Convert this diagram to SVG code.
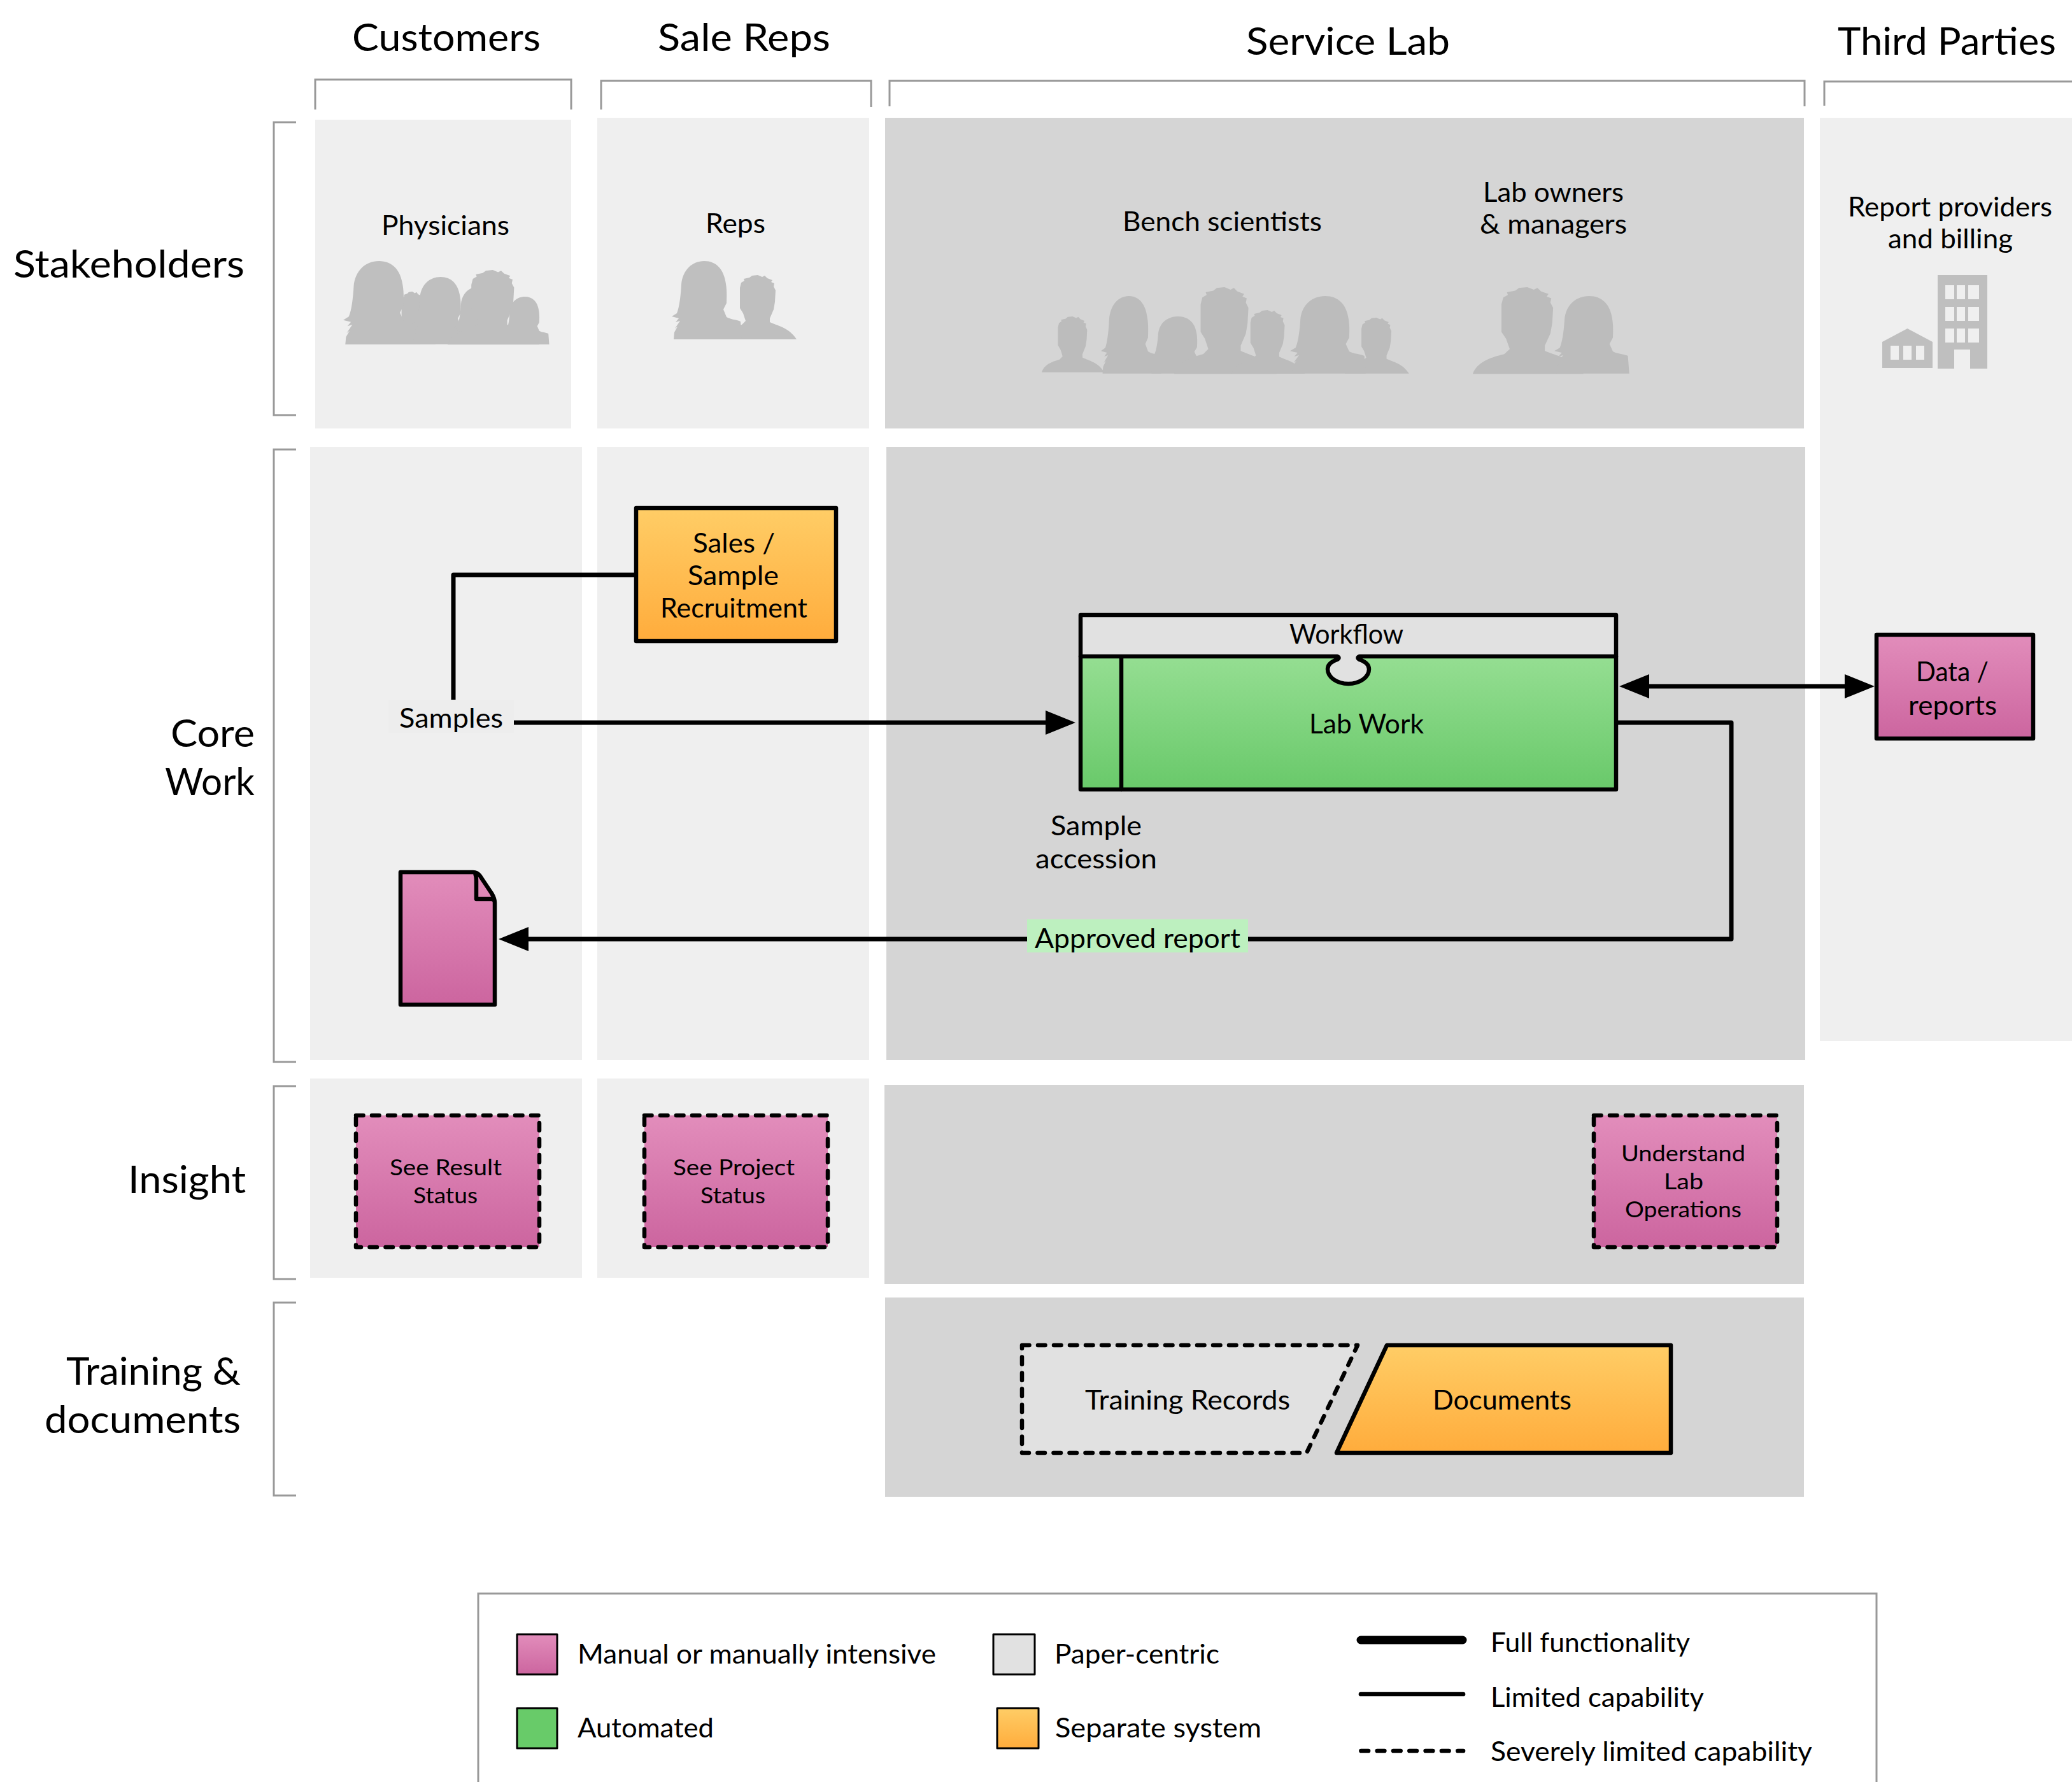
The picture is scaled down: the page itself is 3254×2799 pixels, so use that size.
<svg xmlns="http://www.w3.org/2000/svg" width="3254" height="2799" viewBox="0 0 3254 2799">
<style>
text{font-family:"Lato","Liberation Sans",sans-serif;fill:#000;font-size:42.500px}
.t{font-size:60px}.s{font-size:35.500px}
.l{fill:#efefef}.d{fill:#d5d5d5}
.br{fill:none;stroke:#999;stroke-width:3}
.n{stroke:#000;stroke-width:6.500;stroke-linejoin:round}
.dash{stroke-dasharray:11.500 13.500;stroke-linecap:round}
.c{fill:none;stroke:#000;stroke-width:7;stroke-linejoin:round}
.sil{fill:#bfbfbf}.sil2{fill:#bcbcbc}
.p{fill:url(#pink)}.g{fill:url(#green)}.o{fill:url(#orange)}.w{fill:#e1e1e1}
</style>
<defs>
<linearGradient id="pink" x1="0" y1="0" x2="0" y2="1"><stop offset="0" stop-color="#e28dbb"/><stop offset="1" stop-color="#cc659f"/></linearGradient>
<linearGradient id="green" x1="0" y1="0" x2="0" y2="1"><stop offset="0" stop-color="#95de92"/><stop offset="1" stop-color="#69c96a"/></linearGradient>
<linearGradient id="orange" x1="0" y1="0" x2="0" y2="1"><stop offset="0" stop-color="#ffcd66"/><stop offset="1" stop-color="#ffac3c"/></linearGradient>
<marker id="arr" markerUnits="userSpaceOnUse" markerWidth="48" markerHeight="38" refX="1" refY="19" orient="auto-start-reverse"><path d="M0 0L47 19L0 38Z" fill="#000"/></marker>
<path id="woman" d="M3 123L4 112L9 103L5 106L13 94L6 96L11 90L0 87L8 82C12 72 14 55 15 37C17 14 32 0 51 0C70 0 82 13 85 36C87 48 86 60 86 66L81 76L86 88C92 92 103 92 108 95L110 123Z"/>
<path id="man" d="M0 101C4 88 18 82 34 78L40 72L36 60L31 52L31 20L33 12L38 9L37 6L46 4L50 1L59 0L66 3L70 1L74 5L82 8L80 11L85 13L84 18L87 24L86 42L84 54L78 68L78 74C90 80 108 82 120 101Z"/>
</defs>
<rect width="3254" height="2799" fill="#fff"/>
<g id="panels">
<rect class="l" x="495" y="188" width="402" height="485"/>
<rect class="l" x="938" y="185" width="427" height="488"/>
<rect class="d" x="1390" y="185" width="1443" height="488"/>
<rect class="l" x="2858" y="185" width="396" height="1450"/>
<rect class="l" x="487" y="702" width="427" height="963"/>
<rect class="l" x="938" y="702" width="427" height="963"/>
<rect class="d" x="1392" y="702" width="1443" height="963"/>
<rect class="l" x="487" y="1694" width="427" height="313"/>
<rect class="l" x="938" y="1694" width="427" height="313"/>
<rect class="d" x="1389" y="1704" width="1444" height="313"/>
<rect class="d" x="1390" y="2038" width="1443" height="313"/>
</g>
<g id="brackets">
<path class="br" d="M495 172V125H897V172"/>
<path class="br" d="M944 172V127H1368V168"/>
<path class="br" d="M1397 167V127H2834V167"/>
<path class="br" d="M3254 128H2865V166"/>
<path class="br" d="M465 192H430V652H465"/>
<path class="br" d="M465 706H430V1668H465"/>
<path class="br" d="M465 1706H430V2009H465"/>
<path class="br" d="M465 2046H430V2349H465"/>
</g>
<g id="headers">
<text class="t" x="553" y="80" textLength="296" lengthAdjust="spacingAndGlyphs">Customers</text>
<text class="t" x="1033" y="80" textLength="271" lengthAdjust="spacingAndGlyphs">Sale Reps</text>
<text class="t" x="1957" y="86" textLength="320" lengthAdjust="spacingAndGlyphs">Service Lab</text>
<text class="t" x="2886" y="86" textLength="343" lengthAdjust="spacingAndGlyphs">Third Parties</text>
<text class="t" x="21" y="436" textLength="363" lengthAdjust="spacingAndGlyphs">Stakeholders</text>
<text class="t" x="268" y="1173" textLength="132" lengthAdjust="spacingAndGlyphs">Core</text>
<text class="t" x="259" y="1249" textLength="141" lengthAdjust="spacingAndGlyphs">Work</text>
<text class="t" x="201" y="1874" textLength="185" lengthAdjust="spacingAndGlyphs">Insight</text>
<text class="t" x="104" y="2175" textLength="274" lengthAdjust="spacingAndGlyphs">Training &amp;</text>
<text class="t" x="70" y="2251" textLength="308" lengthAdjust="spacingAndGlyphs">documents</text>
</g>
<g id="stakeholder-physicians">
<text x="599" y="369" textLength="201" lengthAdjust="spacingAndGlyphs">Physicians</text>
<g class="sil">
<use href="#man" transform="translate(612 458) scale(.6 .82)"/>
<use href="#woman" transform="translate(539 410) scale(1.1 1.065)"/>
<use href="#woman" transform="translate(646 435) scale(.9 .86)"/>
<use href="#woman" transform="translate(712 450) scale(.8 .74)"/>
<use href="#man" transform="translate(703 424) scale(1.2 1.16)"/>
<use href="#woman" transform="translate(791 466) scale(.65 .61)"/>
</g>
</g>
<g id="stakeholder-reps">
<text x="1108" y="366" textLength="94" lengthAdjust="spacingAndGlyphs">Reps</text>
<g class="sil">
<use href="#man" transform="translate(1131 432)"/>
<use href="#woman" transform="translate(1055 410)"/>
</g>
</g>
<g id="stakeholder-bench">
<text x="1763" y="363" textLength="313" lengthAdjust="spacingAndGlyphs">Bench scientists</text>
<g class="sil2">
<use href="#man" transform="translate(1636 497) scale(.82 .87)"/>
<use href="#woman" transform="translate(1729 465) scale(.86 .99)"/>
<use href="#woman" transform="translate(1806 497) scale(.86 .73)"/>
<use href="#man" transform="translate(1844 451) scale(1.34 1.35)"/>
<use href="#man" transform="translate(1934 487) scale(.96 .99)"/>
<use href="#man" transform="translate(2112 499) scale(.84 .87)"/>
<use href="#woman" transform="translate(2026 465) scale(1.08 .99)"/>
</g>
</g>
<g id="stakeholder-owners">
<text x="2329" y="317" textLength="221" lengthAdjust="spacingAndGlyphs">Lab owners</text>
<text x="2324" y="367" textLength="231" lengthAdjust="spacingAndGlyphs">&amp; managers</text>
<g class="sil2">
<use href="#man" transform="translate(2313 451) scale(1.45 1.35)"/>
<use href="#woman" transform="translate(2441 465) scale(1.07 .99)"/>
</g>
</g>
<g id="stakeholder-third">
<text x="2902" y="340" textLength="321" lengthAdjust="spacingAndGlyphs">Report providers</text>
<text x="2965" y="390" textLength="196" lengthAdjust="spacingAndGlyphs">and billing</text>
<path class="sil" fill-rule="evenodd" d="M3043 432H3121V579H3094V549H3069V579H3043ZM3055 448V470H3069V448ZM3073 448V470H3086V448ZM3091 448V470H3108V448ZM3055 482V504H3069V482ZM3073 482V504H3086V482ZM3091 482V504H3108V482ZM3055 516V538H3069V516ZM3073 516V538H3086V516ZM3091 516V538H3108V516Z"/>
<path class="sil" fill-rule="evenodd" d="M2995.500 516L3035 537V578H2956V537ZM2969 543V565H2982V543ZM2989 543V565H3002V543ZM3009 543V565H3022V543Z"/>
</g>
<g id="connectors">
<path class="c" d="M996 903H712V1103" stroke-linecap="round"/>
<path class="c" d="M800 1135H1643" marker-end="url(#arr)"/>
<path class="c" d="M2541 1135H2719V1475H829" marker-end="url(#arr)"/>
<path class="c" d="M2589 1078H2898" marker-start="url(#arr)" marker-end="url(#arr)"/>
</g>
<g id="label-samples">
<rect fill="#ededed" x="610" y="1099" width="197" height="52"/>
<text x="627" y="1143" textLength="163" lengthAdjust="spacingAndGlyphs">Samples</text>
</g>
<g id="label-approved">
<rect fill="#bdf0bf" x="1613" y="1444" width="347" height="52"/>
<text x="1625" y="1489" textLength="323" lengthAdjust="spacingAndGlyphs">Approved report</text>
</g>
<g id="node-sales">
<rect class="n o" x="999" y="798" width="314" height="209"/>
<text x="1088" y="868" textLength="129" lengthAdjust="spacingAndGlyphs">Sales /</text>
<text x="1080" y="919" textLength="143" lengthAdjust="spacingAndGlyphs">Sample</text>
<text x="1037" y="970" textLength="231" lengthAdjust="spacingAndGlyphs">Recruitment</text>
</g>
<g id="node-labwork">
<rect x="1697" y="1031" width="841" height="209" fill="url(#green)"/>
<path class="w" d="M1697 966H2538V1031H2135Q2130 1033 2135 1036C2144 1039 2150 1044 2150 1051C2150 1064 2135 1074 2117.500 1074C2100 1074 2085 1064 2085 1051C2085 1044 2091 1039 2100 1036Q2105 1033 2100 1031H1697Z"/>
<path fill="none" stroke="#000" stroke-width="6.500" stroke-linecap="round" stroke-linejoin="round" d="M1697 1031H2100Q2105 1033 2100 1036C2091 1039 2085 1044 2085 1051C2085 1064 2100 1074 2117.500 1074C2135 1074 2150 1064 2150 1051C2150 1044 2144 1039 2135 1036Q2130 1033 2135 1031H2538M1761 1031V1240"/>
<rect class="n" fill="none" x="1697" y="966" width="841" height="274"/>
<text x="2025" y="1011" textLength="179" lengthAdjust="spacingAndGlyphs">Workflow</text>
<text x="2056" y="1152" textLength="180" lengthAdjust="spacingAndGlyphs">Lab Work</text>
</g>
<g id="label-accession">
<text x="1650" y="1312" textLength="143" lengthAdjust="spacingAndGlyphs">Sample</text>
<text x="1626" y="1364" textLength="191" lengthAdjust="spacingAndGlyphs">accession</text>
</g>
<g id="node-data">
<rect class="n p" x="2947" y="997" width="246" height="163"/>
<text x="3009" y="1070" textLength="114" lengthAdjust="spacingAndGlyphs">Data /</text>
<text x="2997" y="1123" textLength="139" lengthAdjust="spacingAndGlyphs">reports</text>
</g>
<g id="node-document">
<path class="n p" d="M629 1370H743C748 1370 751 1372 754 1376L772 1403C775 1408 777 1413 777 1418V1578H629Z"/>
<path class="n" fill="none" d="M746 1372C748 1376 748 1380 748 1384V1412H772C774 1412 775 1413 776 1415"/>
</g>
<g id="node-see-result">
<rect class="n dash p" x="559" y="1752" width="288" height="207"/>
<text class="s" x="612" y="1846" textLength="176" lengthAdjust="spacingAndGlyphs">See Result</text>
<text class="s" x="649" y="1890" textLength="101" lengthAdjust="spacingAndGlyphs">Status</text>
</g>
<g id="node-see-project">
<rect class="n dash p" x="1012" y="1752" width="288" height="207"/>
<text class="s" x="1057" y="1846" textLength="191" lengthAdjust="spacingAndGlyphs">See Project</text>
<text class="s" x="1100" y="1890" textLength="102" lengthAdjust="spacingAndGlyphs">Status</text>
</g>
<g id="node-understand">
<rect class="n dash p" x="2503" y="1752" width="288" height="207"/>
<text class="s" x="2546" y="1824" textLength="195" lengthAdjust="spacingAndGlyphs">Understand</text>
<text class="s" x="2613" y="1868" textLength="62" lengthAdjust="spacingAndGlyphs">Lab</text>
<text class="s" x="2552" y="1912" textLength="183" lengthAdjust="spacingAndGlyphs">Operations</text>
</g>
<g id="node-training">
<path class="n dash w" d="M1605 2113H2132L2052 2282H1605Z"/>
<text x="1704" y="2214" textLength="322" lengthAdjust="spacingAndGlyphs">Training Records</text>
</g>
<g id="node-documents">
<path class="n o" d="M2178 2113H2624V2282H2099Z"/>
<text x="2250" y="2214" textLength="218" lengthAdjust="spacingAndGlyphs">Documents</text>
</g>
<g id="legend">
<path class="br" d="M751 2799V2503H2947V2799"/>
<rect class="n p" x="812" y="2567" width="63" height="63" style="stroke-width:3"/>
<rect class="n w" x="1560" y="2567" width="65" height="63" style="stroke-width:3"/>
<rect class="n" fill="#68cb69" x="812" y="2683" width="63" height="63" style="stroke-width:3"/>
<rect class="n o" x="1566" y="2683" width="65" height="63" style="stroke-width:3"/>
<text x="907" y="2613" textLength="563" lengthAdjust="spacingAndGlyphs">Manual or manually intensive</text>
<text x="1656" y="2613" textLength="259" lengthAdjust="spacingAndGlyphs">Paper-centric</text>
<text x="907" y="2729" textLength="214" lengthAdjust="spacingAndGlyphs">Automated</text>
<text x="1657" y="2729" textLength="324" lengthAdjust="spacingAndGlyphs">Separate system</text>
<path d="M2137 2576H2297" fill="none" stroke="#000" stroke-width="13" stroke-linecap="round"/>
<path d="M2137 2661H2298" fill="none" stroke="#000" stroke-width="6.700" stroke-linecap="round"/>
<path d="M2137.500 2750H2298" fill="none" stroke="#000" stroke-width="6.700" stroke-linecap="round" stroke-dasharray="11.500 13.800"/>
<text x="2341" y="2595" textLength="313" lengthAdjust="spacingAndGlyphs">Full functionality</text>
<text x="2341" y="2681" textLength="335" lengthAdjust="spacingAndGlyphs">Limited capability</text>
<text x="2341" y="2766" textLength="505" lengthAdjust="spacingAndGlyphs">Severely limited capability</text>
</g>
</svg>
